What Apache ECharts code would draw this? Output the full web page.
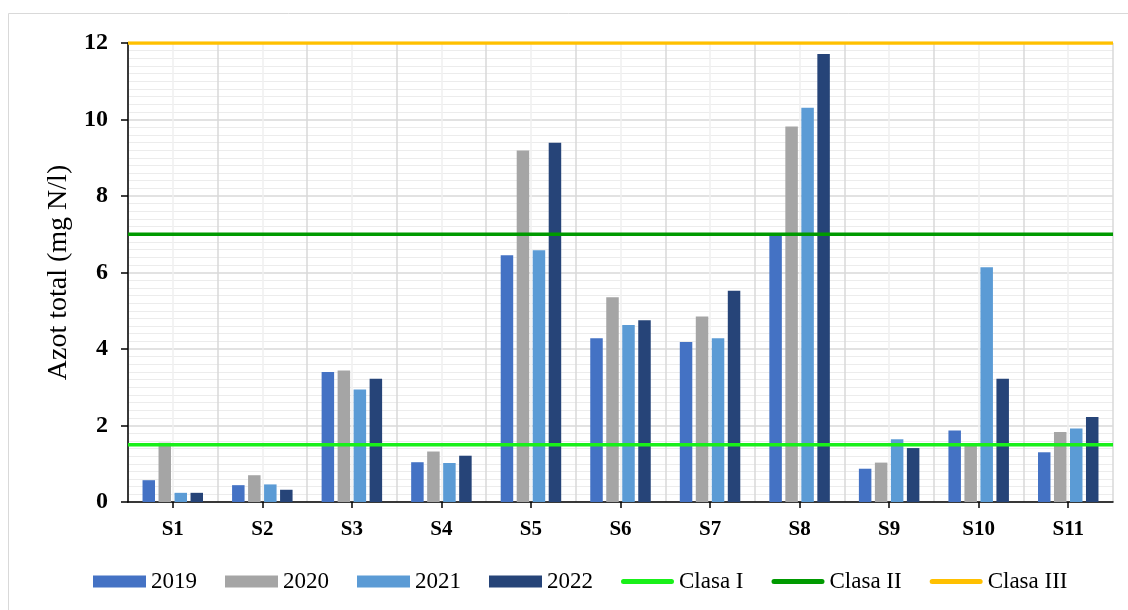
<!DOCTYPE html>
<html>
<head>
<meta charset="utf-8">
<script src="https://cdn.jsdelivr.net/npm/echarts@6/dist/echarts.min.js"></script>
<style>
  html, body { margin: 0; padding: 0; background: #ffffff; }
  #chart { width: 1128px; height: 610px; }
</style>
</head>
<body>
<div id="chart"></div>
<script>
// Sampling stations
const stations = ['S1', 'S2', 'S3', 'S4', 'S5', 'S6', 'S7', 'S8', 'S9', 'S10', 'S11'];

// Total nitrogen (mg N/l) per year
const y2019 = [0.57, 0.44, 3.40, 1.04, 6.45, 4.28, 4.18, 7.02, 0.87, 1.87, 1.30];
const y2020 = [1.55, 0.70, 3.44, 1.32, 9.19, 5.35, 4.85, 9.82, 1.03, 1.49, 1.83];
const y2021 = [0.24, 0.46, 2.94, 1.02, 6.58, 4.63, 4.28, 10.31, 1.64, 6.14, 1.92];
const y2022 = [0.24, 0.32, 3.22, 1.21, 9.39, 4.75, 5.52, 11.71, 1.41, 3.22, 2.22];

// Quality class limits (mg N/l)
const classNames = ['Clasa I', 'Clasa II', 'Clasa III'];
const classLimits = [1.5, 7, 12];

// Value axis ticks
const yMin = 0, yMax = 12, yStep = 2;

const serif = '"Liberation Serif", "Times New Roman", serif';
const barColors = ['#4472C4', '#A5A5A5', '#5B9BD5', '#264478'];
const lineColors = ['#19F019', '#009A00', '#FFC000'];

// Thick rounded stroke for the limit-line legend keys (tiny corner specks keep the 53x12 box)
const lineKey = 'path://M0,0L0.05,0L0.05,0.05L0,0.05Z M53,12L52.95,12L52.95,11.95L53,11.95Z ' +
  'M2.5,3.5 L50.5,3.5 A2.5,2.5 0 0 1 50.5,8.5 L2.5,8.5 A2.5,2.5 0 0 1 2.5,3.5 Z';

const chart = echarts.init(document.getElementById('chart'), null, { renderer: 'canvas' });

const barSeries = [
  ['2019', y2019], ['2020', y2020], ['2021', y2021], ['2022', y2022]
].map(([name, data], i) => ({
  name: name,
  type: 'bar',
  xAxisIndex: 0,
  data: data,
  barWidth: 12.5,
  barGap: '28%',
  itemStyle: { color: barColors[i] },
  z: 3
}));

const lineSeries = classNames.map((name, i) => ({
  name: name,
  type: 'line',
  xAxisIndex: 1,
  data: [[0, classLimits[i]], [stations.length, classLimits[i]]],
  symbol: 'none',
  lineStyle: { color: lineColors[i], width: 3.5 },
  itemStyle: { color: lineColors[i] },
  z: 5
}));

chart.setOption({
  animation: false,
  backgroundColor: '#ffffff',
  graphic: [{
    type: 'rect',
    shape: { x: 8.5, y: 13.5, width: 1130, height: 620 },
    style: { fill: 'none', stroke: '#d9d9d9', lineWidth: 1 },
    silent: true,
    z: -10
  }],
  grid: { left: 128, right: 15, top: 43, bottom: 108, containLabel: false },
  legend: {
    left: 93,
    top: 570,
    padding: 0,
    itemWidth: 53,
    itemHeight: 12,
    itemGap: 28,
    textStyle: { fontFamily: serif, fontSize: 23, color: '#000000' },
    data: ['2019', '2020', '2021', '2022'].map(n => ({ name: n, icon: 'rect' }))
      .concat(classNames.map((n, i) => ({
        name: n,
        icon: lineKey,
        itemStyle: { color: lineColors[i], borderWidth: 0 },
        lineStyle: { width: 0 }
      })))
  },
  xAxis: [{
    type: 'category',
    data: stations,
    boundaryGap: true,
    axisLine: { show: true, lineStyle: { color: '#000000', width: 1.5 } },
    axisTick: { show: true, alignWithLabel: true, length: 6, lineStyle: { color: '#000000', width: 1.5 } },
    axisLabel: { fontFamily: serif, fontSize: 21, fontWeight: 'bold', color: '#000000', margin: 17 },
    splitLine: { show: true, lineStyle: { color: '#d9d9d9', width: 1.5 } }
  }, {
    type: 'value',
    min: 0,
    max: stations.length,
    interval: 1,
    show: true,
    position: 'bottom',
    axisLine: { show: false },
    axisTick: { show: false },
    axisLabel: { show: false },
    splitLine: { show: false },
    minorTick: { show: false, splitNumber: 2 },
    minorSplitLine: { show: true, lineStyle: { color: '#efefef', width: 1.5 } }
  }],
  yAxis: {
    type: 'value',
    min: yMin,
    max: yMax,
    interval: yStep,
    name: 'Azot total (mg N/l)',
    nameLocation: 'middle',
    nameGap: 49,
    nameTextStyle: { fontFamily: serif, fontSize: 28, color: '#000000' },
    axisLine: { show: true, lineStyle: { color: '#000000', width: 1.5 } },
    axisTick: { show: true, inside: false, length: 7, lineStyle: { color: '#000000', width: 1.5 } },
    axisLabel: { fontFamily: serif, fontSize: 24, fontWeight: 'bold', color: '#000000', margin: 20 },
    splitLine: { show: true, lineStyle: { color: '#d9d9d9', width: 1.5 } },
    minorTick: { show: false, splitNumber: 10 },
    minorSplitLine: { show: true, lineStyle: { color: '#ececec', width: 1 } }
  },
  series: barSeries.concat(lineSeries)
});
</script>
</body>
</html>
